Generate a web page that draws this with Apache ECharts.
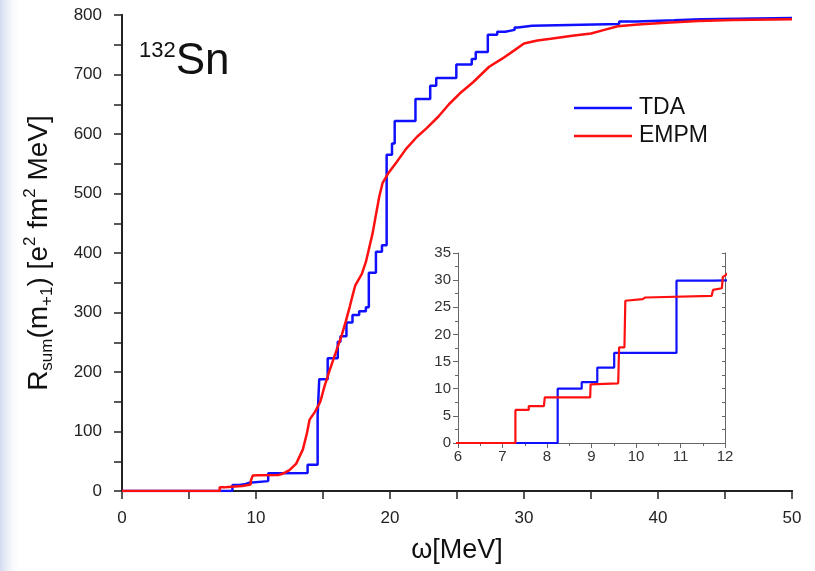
<!DOCTYPE html>
<html>
<head>
<meta charset="utf-8">
<script src="https://cdn.jsdelivr.net/npm/echarts@6/dist/echarts.min.js"></script>
<style>
html,body{margin:0;padding:0;background:#fff;}
#chart{width:815px;height:571px;}
</style>
</head>
<body>
<div id="chart"></div>
<script>
// ---- data ----
const seriesNames = ['TDA', 'EMPM'];
// TDA: cumulative step function (energy where step occurs, value after step)
const tdaE = [0, 8.24, 8.78, 9.13, 9.51, 10.91, 11.74, 13.85, 14.6, 14.72, 15.35, 16.1, 16.3, 16.75, 17.2, 17.7, 18.2, 18.42, 18.95, 19.4, 19.75, 20.15, 20.35, 21.9, 23.0, 23.45, 24.95, 26.1, 26.4, 27.3, 28.0, 28.6, 29.3, 29.55, 30.6, 37.1, 38.4, 41.2, 43.2, 50];
const tdaR = [0, 10.0, 11.2, 13.9, 16.6, 29.9, 30.2, 44, 128, 188, 223, 251, 260, 283, 296, 302, 309, 367, 402, 413, 565, 584, 622, 659, 681, 694, 717, 726, 738, 767, 772, 775, 779, 782, 785, 789, 791, 793, 795, 795];
// EMPM: cumulative curve
const empmE = [0, 7.29, 7.29, 7.59, 7.59, 7.93, 7.95, 8.97, 8.98, 9.6, 9.62, 9.74, 9.76, 10.15, 10.2, 11.7, 11.73, 11.93, 11.95, 12.0, 12.5, 13.0, 13.5, 13.8, 14.0, 14.4, 14.8, 15.1, 15.5, 16.0, 16.4, 16.7, 17.0, 17.2, 17.4, 17.9, 18.2, 18.7, 19.2, 19.45, 19.9, 20.5, 21.2, 22.0, 22.7, 23.6, 24.4, 25.2, 26.2, 27.4, 28.4, 29.3, 30.0, 31.0, 32.0, 33.6, 35.0, 36.0, 37.0, 38.5, 40.6, 43.0, 45.6, 50];
const empmR = [0, 0, 6.1, 6.1, 6.8, 6.8, 8.4, 8.4, 10.8, 11.0, 17.6, 17.6, 26.2, 26.5, 26.8, 27.1, 28.2, 28.5, 30.6, 30.8, 35, 46, 70, 97, 120, 133, 150, 175, 203, 236, 262, 285, 310, 328, 345, 365, 385, 433, 495, 518, 535, 553, 575, 595, 609, 629, 650, 668, 687, 713, 727, 741, 752, 757, 760, 765, 769, 775, 781, 784, 787, 790, 791.5, 793];
// axis ranges / ticks
const mainX = {min: 0, max: 50, interval: 10};
const mainY = {min: 0, max: 800, interval: 100};
const insetX = {min: 6, max: 12, interval: 1};
const insetY = {min: 0, max: 35, interval: 5};

const zip = (a, b) => a.map((v, i) => [v, b[i]]);
const tdaData = zip(tdaE, tdaR);
const empmData = zip(empmE, empmR);

const FONT = 'Liberation Sans, Arial, sans-serif';
const BLUE = '#1010ff';
const RED = '#ff1010';

const chart = echarts.init(document.getElementById('chart'), null, {renderer: 'canvas'});

const mainAxisLine = {lineStyle: {color: '#222', width: 2}};
const insetAxisLine = {lineStyle: {color: '#666', width: 1}};

const option = {
  animation: false,
  backgroundColor: '#ffffff',
  graphic: [
    {
      type: 'rect', left: 0, top: 0, z: -10,
      shape: {width: 22, height: 571},
      style: {fill: new echarts.graphic.LinearGradient(0, 0, 1, 0, [
        {offset: 0, color: 'rgba(200,214,236,0.85)'},
        {offset: 1, color: 'rgba(255,255,255,0)'}
      ])}
    },
    {
      type: 'text', left: 139, top: 40, z: 10,
      style: {
        text: '{sup|132}{big|Sn}',
        rich: {
          sup: {fontSize: 22, fontFamily: FONT, fill: '#111', verticalAlign: 'top', padding: [0, 0, 20, 0]},
          big: {fontSize: 44, fontFamily: FONT, fill: '#111'}
        }
      }
    }
  ],
  legend: {
    data: seriesNames,
    orient: 'vertical',
    left: 569, top: 91,
    icon: 'rect',
    itemWidth: 58, itemHeight: 2.5, itemGap: 4,
    textStyle: {fontSize: 23, fontFamily: FONT, color: '#111', padding: [0, 0, 0, 2], lineHeight: 24}
  },
  grid: [
    {left: 122, right: 23, top: 15, bottom: 80, containLabel: false},
    {left: 458, right: 90, top: 253, bottom: 128, containLabel: false}
  ],
  xAxis: [
    {
      gridIndex: 0, type: 'value', position: 'bottom',
      min: mainX.min, max: mainX.max, interval: mainX.interval,
      axisLine: mainAxisLine,
      axisTick: {show: true, inside: false, length: 8, lineStyle: {color: '#222', width: 1.5}},
      minorTick: {show: true, splitNumber: 2, length: 5, lineStyle: {color: '#222', width: 1.5}},
      splitLine: {show: false},
      axisLabel: {fontSize: 17, fontFamily: FONT, color: '#222', margin: 19},
      name: 'ω[MeV]', nameLocation: 'middle', nameGap: 46,
      nameTextStyle: {fontSize: 27, fontFamily: FONT, color: '#111'}
    },
    {
      gridIndex: 0, type: 'value', position: 'top',
      min: mainX.min, max: mainX.max, interval: 5,
      axisLine: mainAxisLine,
      axisTick: {show: true, inside: true, length: 8, lineStyle: {color: '#222', width: 1.5}},
      splitLine: {show: false}, axisLabel: {show: false}
    },
    {
      gridIndex: 1, type: 'value', position: 'bottom',
      min: insetX.min, max: insetX.max, interval: insetX.interval,
      axisLine: insetAxisLine,
      axisTick: {show: true, inside: false, length: 5, lineStyle: {color: '#666'}},
      minorTick: {show: true, splitNumber: 2, length: 3, lineStyle: {color: '#666'}},
      splitLine: {show: false},
      axisLabel: {fontSize: 15, fontFamily: FONT, color: '#333', margin: 6}
    },
    {
      gridIndex: 1, type: 'value', position: 'top',
      min: insetX.min, max: insetX.max, interval: 0.5,
      axisLine: insetAxisLine,
      axisTick: {show: true, inside: true, length: 3, lineStyle: {color: '#666'}},
      splitLine: {show: false}, axisLabel: {show: false}
    }
  ],
  yAxis: [
    {
      gridIndex: 0, type: 'value', position: 'left',
      min: mainY.min, max: mainY.max, interval: mainY.interval,
      axisLine: Object.assign({show: true}, mainAxisLine),
      axisTick: {show: true, inside: false, length: 8, lineStyle: {color: '#222', width: 1.5}},
      minorTick: {show: true, splitNumber: 2, length: 4, lineStyle: {color: '#222', width: 1.5}},
      splitLine: {show: false},
      axisLabel: {fontSize: 17, fontFamily: FONT, color: '#222', margin: 20},
      name: '{r|R}{sub|sum}{r|(m}{sub|+1}{r|) [e}{sup|2}{r| fm}{sup|2}{r| MeV]}',
      nameLocation: 'middle', nameRotate: 90, nameGap: 66,
      nameTextStyle: {
        rich: {
          r: {fontSize: 28, fontFamily: FONT, color: '#111', lineHeight: 34},
          sub: {fontSize: 17, fontFamily: FONT, color: '#111', verticalAlign: 'bottom', lineHeight: 34, padding: [16, 0, 0, 0]},
          sup: {fontSize: 17, fontFamily: FONT, color: '#111', verticalAlign: 'top', lineHeight: 34, padding: [0, 0, 14, 0]}
        }
      }
    },
    {
      gridIndex: 0, type: 'value', position: 'right',
      min: mainY.min, max: mainY.max, interval: 50,
      axisLine: Object.assign({show: true}, mainAxisLine),
      axisTick: {show: true, inside: true, length: 8, lineStyle: {color: '#222', width: 1.5}},
      splitLine: {show: false}, axisLabel: {show: false}
    },
    {
      gridIndex: 1, type: 'value', position: 'left',
      min: insetY.min, max: insetY.max, interval: insetY.interval,
      axisLine: Object.assign({show: true}, insetAxisLine),
      axisTick: {show: true, inside: false, length: 5, lineStyle: {color: '#666'}},
      minorTick: {show: true, splitNumber: 2, length: 3, lineStyle: {color: '#666'}},
      splitLine: {show: false},
      axisLabel: {fontSize: 15, fontFamily: FONT, color: '#333', margin: 7}
    },
    {
      gridIndex: 1, type: 'value', position: 'right',
      min: insetY.min, max: insetY.max, interval: 2.5,
      axisLine: Object.assign({show: true}, insetAxisLine),
      axisTick: {show: true, inside: true, length: 3, lineStyle: {color: '#666'}},
      splitLine: {show: false}, axisLabel: {show: false}
    }
  ],
  series: [
    {
      name: 'TDA', type: 'line', xAxisIndex: 0, yAxisIndex: 0,
      data: tdaData, step: 'end', symbol: 'none', color: BLUE,
      lineStyle: {color: BLUE, width: 2.5}, z: 3
    },
    {
      name: 'EMPM', type: 'line', xAxisIndex: 0, yAxisIndex: 0,
      data: empmData, symbol: 'none', color: RED,
      lineStyle: {color: RED, width: 2.5}, z: 4
    },
    {
      name: 'TDA', type: 'line', xAxisIndex: 2, yAxisIndex: 2,
      data: tdaData, step: 'end', symbol: 'none', color: BLUE, clip: true,
      lineStyle: {color: BLUE, width: 2.2}, z: 5
    },
    {
      name: 'EMPM', type: 'line', xAxisIndex: 2, yAxisIndex: 2,
      data: empmData, symbol: 'none', color: RED, clip: true,
      lineStyle: {color: RED, width: 2.2}, z: 6
    }
  ]
};
chart.setOption(option);
</script>
</body>
</html>
